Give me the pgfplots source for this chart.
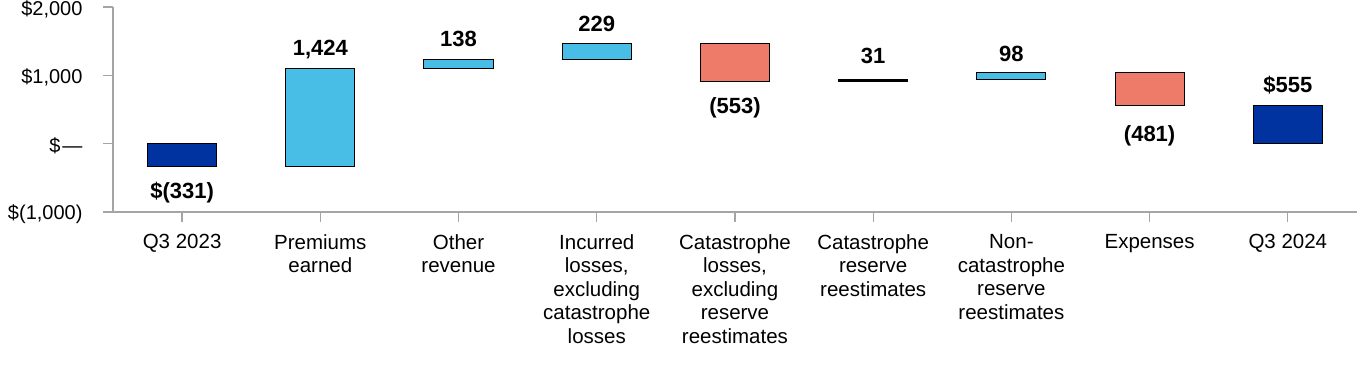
\documentclass[border=0pt]{standalone}
\usepackage{pgfplots}
\pgfplotsset{compat=1.18}
\usepackage{pgfplotstable}
\usepackage{fontspec}
\setmainfont{Liberation Sans}
\definecolor{darkblue}{RGB}{0,51,160}
\definecolor{lightblue}{RGB}{72,190,230}
\definecolor{salmon}{RGB}{238,123,106}
\definecolor{axisgray}{RGB}{165,165,165}
\pgfplotstableread{
x base dark light salmon black
0 0 -331 0 0 0
1 -331 0 1424 0 0
2 1093 0 138 0 0
3 1231 0 229 0 0
4 907 0 0 553 0
5 907 0 0 0 31
6 938 0 98 0 0
7 555 0 0 481 0
8 0 555 0 0 0
}\wf
\begin{document}
\begin{tikzpicture}
\path[use as bounding box] (0,0) rectangle (1364pt,364pt);
\begin{axis}[
  at={(113pt,152pt)}, anchor=south west,
  scale only axis, width=1244pt, height=205pt,
  xmin=-0.5, xmax=8.5, ymin=-1000, ymax=2000,
  ybar stacked, stack negative=on previous, bar width=0.5,
  axis x line*=bottom, axis y line*=left,
  axis line style={draw=axisgray, line width=1.3pt},
  tick style={draw=axisgray, line width=1.3pt},
  tick align=outside, major tick length=10pt,
  xtick={0,1,2,3,4,5,6,7,8},
  xticklabels={Q3 2023,{Premiums\\earned},{Other\\revenue},{Incurred\\losses,\\excluding\\catastrophe\\losses},{Catastrophe\\losses,\\excluding\\reserve\\reestimates},{Catastrophe\\reserve\\reestimates},{Non-\\catastrophe\\reserve\\reestimates},Expenses,Q3 2024},
  xticklabel style={align=center, anchor=north, font=\fontsize{20.5pt}{23.5pt}\selectfont, yshift=-9pt},
  ytick={-1000,0,1000,2000},
  yticklabels={{\$(1,000)},{\$\hspace{2pt}—},{\$1,000},{\$2,000}},
  yticklabel style={anchor=east, font=\fontsize{20pt}{23pt}\selectfont, xshift=-17pt, yshift=-2pt},
  clip=false,
]
\addplot[draw=none, fill=none] table[x=x, y=base] {\wf};
\addplot[draw=black, line width=1pt, fill=darkblue] table[x=x, y=dark] {\wf};
\addplot[draw=black, line width=1pt, fill=lightblue] table[x=x, y=light] {\wf};
\addplot[draw=black, line width=1pt, fill=salmon] table[x=x, y=salmon] {\wf};
\addplot[draw=black, line width=1pt, fill=black] table[x=x, y=black] {\wf};
% value labels
\tikzset{vlab/.style={anchor=base, inner sep=0pt, font=\bfseries\fontsize{22pt}{26pt}\selectfont}}
\node[vlab, yshift=13pt] at (axis cs:1,1093) {1,424};
\node[vlab, yshift=13pt] at (axis cs:2,1231) {138};
\node[vlab, yshift=12pt] at (axis cs:3,1460) {229};
\node[vlab, yshift=16pt] at (axis cs:5,938) {31};
\node[vlab, yshift=11pt] at (axis cs:6,1036) {98};
\node[vlab, yshift=13pt] at (axis cs:8,555) {\$555};
\node[vlab, yshift=-32pt] at (axis cs:0,-331) {\$(331)};
\node[vlab, yshift=-32pt] at (axis cs:4,907) {(553)};
\node[vlab, yshift=-36pt] at (axis cs:7,555) {(481)};
\end{axis}
\end{tikzpicture}
\end{document}
